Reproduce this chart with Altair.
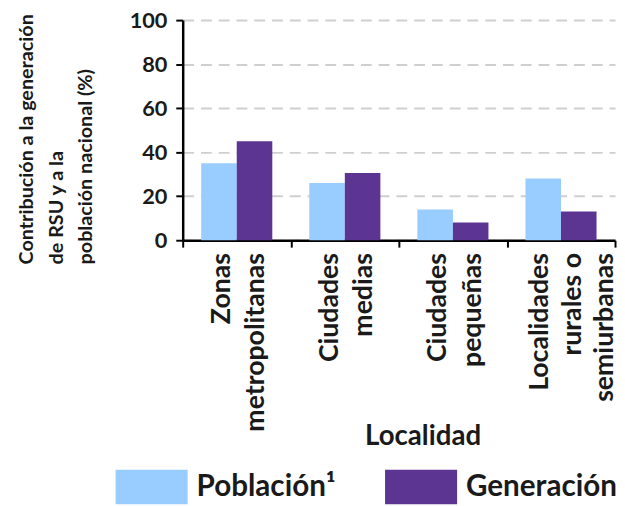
import altair as alt
import pandas as pd

categorias = [
    "Zonas\nmetropolitanas",
    "Ciudades\nmedias",
    "Ciudades\npequeñas",
    "Localidades\nrurales o\nsemiurbanas",
]
series = ["Población¹", "Generación"]
poblacion = [35, 26, 14, 28]
generacion = [45, 30.5, 8, 13]
colores = ["#99ccff", "#5c3593"]
y_ticks = [0, 20, 40, 60, 80, 100]
y_titulo = ["Contribución a la generación", "de RSU y a la", "población nacional (%)"]

df = pd.DataFrame({
    "Localidad": categorias * 2,
    "Serie": [series[0]] * len(categorias) + [series[1]] * len(categorias),
    "Valor": poblacion + generacion,
})
df_cat = pd.DataFrame({
    "Localidad": categorias,
    "lineas": [c.count("\n") + 1 for c in categorias],
})

FONT = "Lato"
TXT = "#1a1a1a"

bars = alt.Chart(df).mark_bar().encode(
    x=alt.X(
        "Localidad:N", sort=categorias,
        scale=alt.Scale(paddingInner=0, paddingOuter=0),
        axis=alt.Axis(
            title="Localidad", labels=False,
            tickBand="extent", tickSize=7, tickWidth=2, tickColor="black",
            domainColor="black", domainWidth=2.5, grid=False,
            titleFont=FONT, titleFontSize=28, titleFontWeight="bold", titleColor=TXT,
            titleX=243, titleY=207, titleBaseline="alphabetic", titleAlign="center",
        ),
    ),
    xOffset=alt.XOffset("Serie:N", sort=series, scale=alt.Scale(paddingInner=0, paddingOuter=0.52)),
    y=alt.Y(
        "Valor:Q", scale=alt.Scale(domain=[0, 100]),
        axis=alt.Axis(
            values=y_ticks, title=y_titulo, titleAngle=270, titleAlign="left",
            titleBaseline="top", titleX=-168, titleY=247, titleLineHeight=30,
            titleFont=FONT, titleFontSize=20, titleFontWeight="bold", titleColor=TXT,
            labelFont=FONT, labelFontSize=22, labelFontWeight="bold", labelColor=TXT,
            labelPadding=9, tickSize=7, tickWidth=2, tickColor="black",
            domainColor="black", domainWidth=2.5,
            grid=True, gridDash=[11, 7], gridColor="#cfcfcf", gridWidth=2,
        ),
    ),
    color=alt.Color(
        "Serie:N", sort=series, scale=alt.Scale(domain=series, range=colores),
        legend=alt.Legend(
            title=None, orient="none", legendX=-68, legendY=436, direction="horizontal",
            symbolType="M-1,-0.48H1V0.48H-1Z", symbolSize=5329, symbolStrokeWidth=0,
            symbolOpacity=1, labelFontSize=30, labelFont=FONT, labelFontWeight="bold",
            labelColor=TXT, labelOffset=9, columnPadding=49, padding=0,
        ),
    ),
)


def etiquetas(n, dy, lh):
    return alt.Chart(df_cat).transform_filter(
        alt.datum.lineas == n
    ).mark_text(
        angle=270, align="right", baseline="middle", lineBreak="\n", lineHeight=lh,
        fontSize=27, font=FONT, fontWeight="bold", color=TXT, dx=-13, dy=dy,
    ).encode(
        x=alt.X("Localidad:N", sort=categorias, axis=None),
        y=alt.YDatum(0, type="quantitative", axis=None),
        text="Localidad:N",
    )


chart = alt.layer(bars, etiquetas(2, -15, 35), etiquetas(3, -21, 33)).resolve_axis(
    x="independent", y="independent"
).properties(
    width=438, height=223,
    autosize=alt.AutoSizeParams(type="none"),
    padding={"left": 177, "top": 9, "right": 2, "bottom": 266},
).configure_view(stroke=None)

chart.save("out.html", embed_options={"renderer": "svg", "actions": False})
